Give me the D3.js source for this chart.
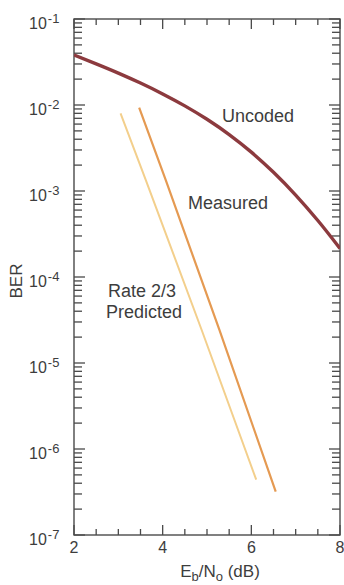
<!DOCTYPE html>
<html><head><meta charset="utf-8">
<script src="https://cdn.jsdelivr.net/npm/d3@7"></script>
<style>
html,body{margin:0;padding:0;background:#fff;}
svg{display:block;font-family:"Liberation Sans",Arial,Helvetica,sans-serif;}
</style></head>
<body>
<svg id="chart" width="344" height="585"></svg>
<script>
// ---- data ----
const xTickValues = [2, 4, 6, 8];
const xMinorTicks = [2.5, 3, 3.5, 4.5, 5, 5.5, 6.5, 7, 7.5];
const yDecadeExponents = [-7, -6, -5, -4, -3, -2, -1];

const uncodedEbNo = [2.0, 2.5, 3.0, 3.5, 4.0, 4.5, 5.0, 5.5, 6.0, 6.5, 7.0, 7.5, 8.0];
const uncodedBER  = [0.0381, 0.0301, 0.0235, 0.0180, 0.01346, 0.00977, 0.00682, 0.00453, 0.00283, 0.00165, 0.000897, 0.000454, 0.000215];

const measuredEbNo = [3.47, 4.07, 5.28, 6.55];
const measuredBER  = [0.0093, 0.00134, 0.0000242, 0.00000032];

const predictedEbNo = [3.05, 3.62, 4.88, 6.11];
const predictedBER  = [0.0080, 0.00134, 0.0000242, 0.00000044];
// -------------------------------------

const svg = d3.select("#chart");
const mLeft = 74, mRight = 340, mTop = 19, mBottom = 535;

const x = d3.scaleLinear().domain([2, 8]).range([mLeft, mRight]);
const y = d3.scaleLog().domain([1e-7, 1e-1]).range([mBottom, mTop]);

const axisColor = "#4a4a4a";
const textColor = "#3d3d3d";

const yMinor = [];
yDecadeExponents.slice(0, -1).forEach(e => {
  for (let k = 2; k <= 9; k++) yMinor.push(k * Math.pow(10, e));
});
const yMajor = yDecadeExponents.map(e => Math.pow(10, e));

// frame
svg.append("rect").attr("x", x(2)).attr("y", y(1e-1))
  .attr("width", x(8) - x(2)).attr("height", y(1e-7) - y(1e-1))
  .attr("fill", "none").attr("stroke", axisColor).attr("stroke-width", 1.4);

// ticks drawn as thin rects (inward)
const tickG = svg.append("g").attr("fill", axisColor);
const tw = 1.3;

const xTicksAll = xTickValues.map(v => ({v, len: 10})).concat(xMinorTicks.map(v => ({v, len: 6})));
tickG.selectAll("rect.xb").data(xTicksAll).join("rect").attr("class", "xb")
  .attr("x", d => x(d.v) - tw / 2).attr("width", tw)
  .attr("y", d => mBottom - d.len).attr("height", d => d.len);
tickG.selectAll("rect.xt").data(xTicksAll).join("rect").attr("class", "xt")
  .attr("x", d => x(d.v) - tw / 2).attr("width", tw)
  .attr("y", mTop).attr("height", d => d.len);

const yTicksAll = yMajor.map(v => ({v, len: 11})).concat(yMinor.map(v => ({v, len: 8})));
tickG.selectAll("rect.yl").data(yTicksAll).join("rect").attr("class", "yl")
  .attr("y", d => y(d.v) - tw / 2).attr("height", tw)
  .attr("x", mLeft).attr("width", d => d.len);
tickG.selectAll("rect.yr").data(yTicksAll).join("rect").attr("class", "yr")
  .attr("y", d => y(d.v) - tw / 2).attr("height", tw)
  .attr("x", d => mRight - d.len).attr("width", d => d.len);

// y tick labels 10^n
yDecadeExponents.forEach(e => {
  const t = svg.append("text")
    .attr("x", 29).attr("y", y(Math.pow(10, e)) + 10)
    .attr("fill", textColor).attr("font-size", 16);
  t.append("tspan").text("10");
  t.append("tspan").attr("dy", -6).attr("dx", 1).attr("font-size", 13).text("-" + Math.abs(e));
});

// x tick labels
xTickValues.forEach(v => {
  svg.append("text").attr("x", x(v)).attr("y", 553)
    .attr("text-anchor", "middle").attr("fill", textColor).attr("font-size", 16)
    .text(v);
});

// axis titles
svg.append("text")
  .attr("transform", `translate(22,281) rotate(-90)`)
  .attr("text-anchor", "middle").attr("fill", textColor).attr("font-size", 17)
  .text("BER");

const xt = svg.append("text").attr("x", 220).attr("y", 577)
  .attr("text-anchor", "middle").attr("fill", textColor).attr("font-size", 17);
xt.append("tspan").text("E");
xt.append("tspan").attr("font-size", 13).attr("dy", 4).text("b");
xt.append("tspan").attr("dy", -4).text("/N");
xt.append("tspan").attr("font-size", 13).attr("dy", 4).text("o");
xt.append("tspan").attr("dy", -4).text(" (dB)");

// curves
svg.append("clipPath").attr("id", "plotclip")
  .append("rect").attr("x", mLeft).attr("y", mTop).attr("width", mRight - mLeft).attr("height", mBottom - mTop);

const line = d3.line().x(d => x(d[0])).y(d => y(d[1])).curve(d3.curveMonotoneX);
const lineStraight = d3.line().x(d => x(d[0])).y(d => y(d[1]));

svg.append("path")
  .datum(predictedEbNo.map((v, i) => [v, predictedBER[i]]))
  .attr("d", lineStraight).attr("fill", "none")
  .attr("stroke", "#f3cf8c").attr("stroke-width", 2);

svg.append("path")
  .datum(measuredEbNo.map((v, i) => [v, measuredBER[i]]))
  .attr("d", lineStraight).attr("fill", "none")
  .attr("stroke", "#e59a52").attr("stroke-width", 2.2);

svg.append("path")
  .datum(uncodedEbNo.map((v, i) => [v, uncodedBER[i]]))
  .attr("clip-path", "url(#plotclip)")
  .attr("d", line).attr("fill", "none")
  .attr("stroke", "#8c3a3e").attr("stroke-width", 3.4);

// labels
const lab = (txt, cx, by) => svg.append("text").attr("x", cx).attr("y", by)
  .attr("text-anchor", "middle").attr("fill", textColor).attr("font-size", 18).text(txt);
lab("Uncoded", 258, 122);
lab("Measured", 228, 209);
lab("Rate 2/3", 142, 297);
lab("Predicted", 144, 318);
</script>
</body></html>
